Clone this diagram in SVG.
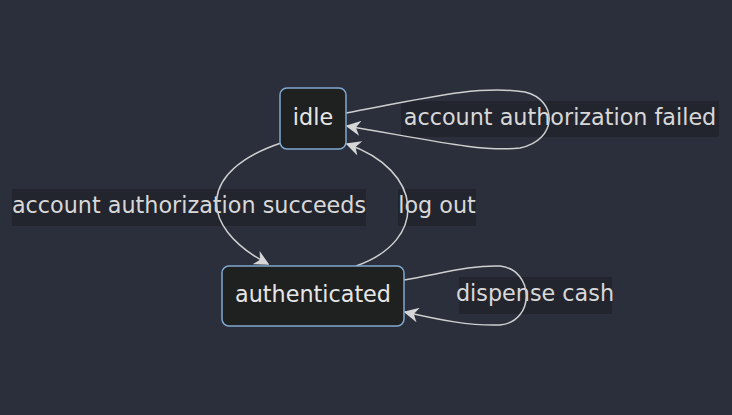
<svg xmlns="http://www.w3.org/2000/svg" width="732" height="415" viewBox="0 0 732 415">
<defs>
<style>
.node rect{fill:#1f2020;stroke:#81a8d0;stroke-width:1.5}
.node text{fill:#e6e6e6;font-family:"DejaVu Sans",sans-serif;font-size:22.3px;text-anchor:middle}
.edge{fill:none;stroke:#cfcfcf;stroke-width:1.5}
.lbl rect{fill:#22252d;fill-opacity:0.9}
.lbl text{fill:#d8d8d8;font-family:"DejaVu Sans",sans-serif;font-size:22.3px;text-anchor:middle}
</style>
<marker id="arr" viewBox="0 0 10 10" refX="9" refY="5" markerWidth="15" markerHeight="15" markerUnits="userSpaceOnUse" orient="auto">
<path d="M0,0 L10,5 L0,10 L3,5 z" fill="#d6d6d6"/>
</marker>
</defs>
<rect width="732" height="415" fill="#2a2f3b"/>
<g id="label-failed" class="lbl"><rect x="401" y="101" width="318" height="36"/><text x="560" y="125">account authorization failed</text></g>
<g id="label-succeeds" class="lbl"><rect x="12" y="189" width="354" height="37"/><text x="189" y="213">account authorization succeeds</text></g>
<g id="label-logout" class="lbl"><rect x="398" y="189" width="78" height="37"/><text x="437" y="213">log out</text></g>
<g id="label-cash" class="lbl"><rect x="459" y="277" width="153" height="37"/><text x="535" y="301">dispense cash</text></g>
<g id="edges">
<path class="edge" d="M281,143 C200,170 195,225 268,264" marker-end="url(#arr)"/>
<path class="edge" d="M356,266 C430,240 423,170 347,144" marker-end="url(#arr)"/>
<path class="edge" d="M346,113 C430,97 480,85 525,92 C558,100 558,140 520,148 C480,152 430,140 347,126" marker-end="url(#arr)"/>
<path class="edge" d="M404,280 C440,274 470,265 500,266 C535,270 535,322 500,325 C470,326 440,320 405,312" marker-end="url(#arr)"/>
</g>
<g id="idle" class="node"><rect x="280" y="88" width="66" height="61" rx="7"/><text x="313" y="125">idle</text></g>
<g id="authenticated" class="node"><rect x="222" y="266" width="182" height="60" rx="7"/><text x="313" y="302">authenticated</text></g>
</svg>
